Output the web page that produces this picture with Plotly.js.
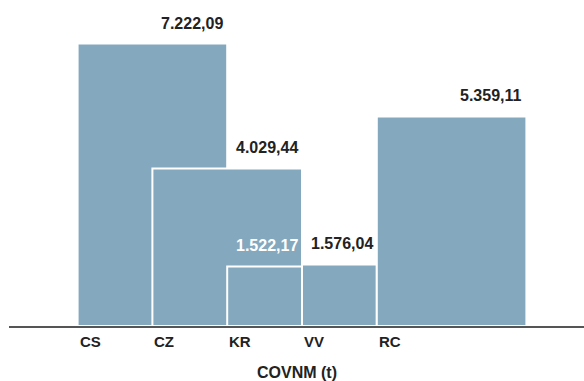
<!DOCTYPE html>
<html>
<head>
<meta charset="utf-8">
<script src="https://cdn.plot.ly/plotly-3.0.1.min.js"></script>
<style>html,body{margin:0;padding:0;background:#fff;}#chart{width:584px;height:381px;}</style>
</head>
<body>
<div id="chart"></div>
<script>
// Data
const categories = ["CS", "CZ", "KR", "VV", "RC"];
const values = [7222.09, 4029.44, 1522.17, 1576.04, 5359.11];
const axisTitle = "COVNM (t)";

// Layout of the overlapping blocks (in column units)
const starts = [0, 1, 2, 3, 4];
const spans = [2, 2, 1, 1, 2];
const labelColors = ["#222", "#222", "#ffffff", "#222", "#222"];

function fmt(v) {
  const parts = v.toFixed(2).split(".");
  const intPart = parts[0].replace(/\B(?=(\d{3})+(?!\d))/g, ".");
  return intPart + "," + parts[1];
}

const FONT = "Liberation Sans, Arial, sans-serif";
const barColor = "#84a8be";

const trace = {
  type: "bar",
  x: starts.map((s, i) => s + spans[i] / 2),
  y: values,
  width: spans,
  marker: { color: barColor, line: { color: "#ffffff", width: 2 } },
  hoverinfo: "skip",
  showlegend: false
};

const annotations = [];
categories.forEach((c, i) => {
  annotations.push({
    x: starts[i] + spans[i], y: values[i], xref: "x", yref: "y",
    text: "<b>" + fmt(values[i]) + "</b>", showarrow: false,
    xanchor: "right", yanchor: "bottom", xshift: -2, yshift: 10,
    font: { family: FONT, size: 16, color: labelColors[i] }
  });
  annotations.push({
    x: starts[i], y: 0, xref: "x", yref: "y",
    text: "<b>" + c + "</b>", showarrow: false,
    xanchor: "left", yanchor: "top", xshift: 0, yshift: -5,
    font: { family: FONT, size: 15, color: "#222" }
  });
});
annotations.push({
  x: 0.5, y: -0.1456, xref: "paper", yref: "paper",
  text: "<b>" + axisTitle + "</b>", showarrow: false,
  xanchor: "center", yanchor: "middle",
  font: { family: FONT, size: 16, color: "#222" }
});

const layout = {
  width: 584, height: 381,
  margin: { l: 9, r: 0, t: 10, b: 55 },
  paper_bgcolor: "#ffffff", plot_bgcolor: "#ffffff",
  barmode: "overlay",
  xaxis: {
    range: [-0.917, 6.77], showgrid: false, zeroline: false, showticklabels: false,
    ticks: "", showline: true, linecolor: "#555555", linewidth: 2
  },
  yaxis: { range: [0, 8082], visible: false, showgrid: false, zeroline: false },
  annotations: annotations,
  font: { family: FONT }
};

Plotly.newPlot("chart", [trace], layout, { displayModeBar: false, staticPlot: true });
</script>
</body>
</html>
